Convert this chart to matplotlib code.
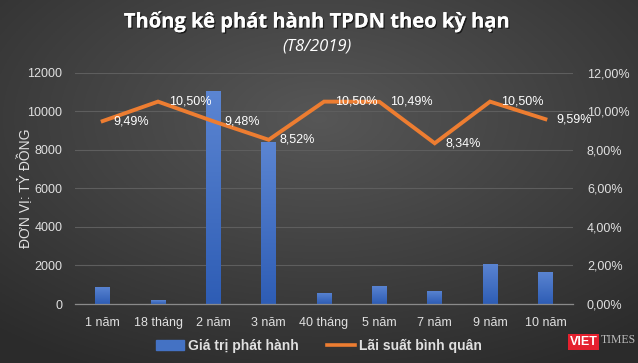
import numpy as np
import matplotlib
matplotlib.use("Agg")
import matplotlib.pyplot as plt
from matplotlib.ticker import FuncFormatter
from matplotlib.patches import Rectangle
from matplotlib.lines import Line2D
from matplotlib.colors import LinearSegmentedColormap
import matplotlib.patheffects as pe

# --- data ---
categories = ["1 năm", "18 tháng", "2 năm", "3 năm", "40 tháng",
              "5 năm", "7 năm", "9 năm", "10 năm"]
issue_value = [900, 200, 11050, 8400, 580, 950, 680, 2100, 1680]
avg_rate = [9.49, 10.50, 9.48, 8.52, 10.50, 10.49, 8.34, 10.50, 9.59]

title = "Thống kê phát hành TPDN theo kỳ hạn"
subtitle = "(T8/2019)"
ylabel = "ĐƠN VỊ: TỶ ĐỒNG"
legend_labels = ["Giá trị phát hành", "Lãi suất bình quân"]

TXT = "#e0e0e0"
ORANGE = "#ED7D31"

plt.rcParams["font.family"] = ["Liberation Sans", "DejaVu Sans"]

fig = plt.figure(figsize=(6.38, 3.63), dpi=100)

# background: dark radial gradient
bg = fig.add_axes([0, 0, 1, 1], zorder=-10)
yy, xx = np.mgrid[-1:1:200j, -1:1:350j]
r = np.sqrt((xx * 0.9) ** 2 + ((yy + 0.35) * 0.9) ** 2)
shade = 0.34 - 0.17 * np.clip(r, 0, 1.4) / 1.4
bg.imshow(np.dstack([shade] * 3), aspect="auto", extent=[0, 1, 0, 1])
bg.set_axis_off()

ax = fig.add_axes([0.1176, 0.1625, 0.7806, 0.6372])
ax.set_facecolor("none")
x = np.arange(len(categories))

bars = ax.bar(x, issue_value, width=0.27, color="#4472C4", zorder=2)
# vertical gradient on bars
grad = np.linspace(0, 1, 100).reshape(-1, 1)
bcmap = LinearSegmentedColormap.from_list("b", ["#2E5DB5", "#5B85D2"])
for b in bars:
    bx, bw, bh = b.get_x(), b.get_width(), b.get_height()
    im = ax.imshow(grad, cmap=bcmap, origin="lower", aspect="auto",
                   extent=[bx, bx + bw, 0, bh], zorder=2.5)
    im.set_clip_path(b)

ax.set_xlim(-0.5, len(categories) - 0.5)
ax.set_ylim(0, 12000)
ax.set_yticks(range(0, 12001, 2000))
ax.set_xticks(x)
ax.set_xticklabels(categories)
ax.grid(axis="y", color="#5e5e5e", linewidth=0.8, zorder=0)
ax.set_axisbelow(True)
for s in ["top", "right", "left"]:
    ax.spines[s].set_visible(False)
ax.spines["bottom"].set_color("#8a8a8a")
ax.spines["bottom"].set_linewidth(0.9)
ax.tick_params(axis="both", length=0, colors=TXT, labelsize=9)
ax.tick_params(axis="x", pad=9)
ax.tick_params(axis="y", pad=9)
ax.set_ylabel(ylabel, color=TXT, fontsize=10)
ax.yaxis.set_label_coords(-0.085, 0.5)

ax2 = ax.twinx()
ax2.set_facecolor("none")
ax2.plot(x, avg_rate, color=ORANGE, linewidth=2.8, solid_joinstyle="miter", zorder=3)
ax2.set_ylim(0, 12)
ax2.set_yticks(range(0, 13, 2))
ax2.yaxis.set_major_formatter(FuncFormatter(lambda v, p: f"{v:.2f}%".replace(".", ",")))
for s in ax2.spines.values():
    s.set_visible(False)
ax2.tick_params(axis="y", length=0, colors=TXT, labelsize=9, pad=10)
for xi, v in zip(x, avg_rate):
    ax2.annotate(f"{v:.2f}%".replace(".", ","), (xi, v), xytext=(8, 0),
                 textcoords="offset points", ha="left", va="center",
                 color="white", fontsize=9)

shadow = [pe.withSimplePatchShadow(offset=(1, -1), shadow_rgbFace="black", alpha=0.6),
          pe.Normal()]
fig.text(0.497, 0.94, title, ha="center", va="center", color="white",
         fontsize=14.5, fontweight="bold", family=["Open Sans", "DejaVu Sans"],
         path_effects=shadow)
fig.text(0.497, 0.873, subtitle, ha="center", va="center", color="white",
         fontsize=12, style="italic", family=["Open Sans", "DejaVu Sans"])

handles = [Rectangle((0, 0), 1, 1, color="#4472C4"),
           Line2D([0], [0], color=ORANGE, linewidth=2.6)]
leg = fig.legend(handles, legend_labels, loc="center", bbox_to_anchor=(0.5, 0.047),
                 ncol=2, frameon=False, fontsize=10, handlelength=2.0,
                 handleheight=0.7, columnspacing=2.0, handletextpad=0.3)
for t in leg.get_texts():
    t.set_color(TXT)
    t.set_fontweight("bold")

# watermark
fig.text(0.893, 0.057, "VIET", ha="left", va="center", color="white", fontsize=9,
         fontweight="bold", bbox=dict(boxstyle="square,pad=0.15", fc="#E5202E", ec="none"))
fig.text(0.941, 0.062, "TIMES", ha="left", va="center", color="#bbbbbb", fontsize=8.5,
         family=["Liberation Serif"])

fig.savefig("out.png", dpi=100)
